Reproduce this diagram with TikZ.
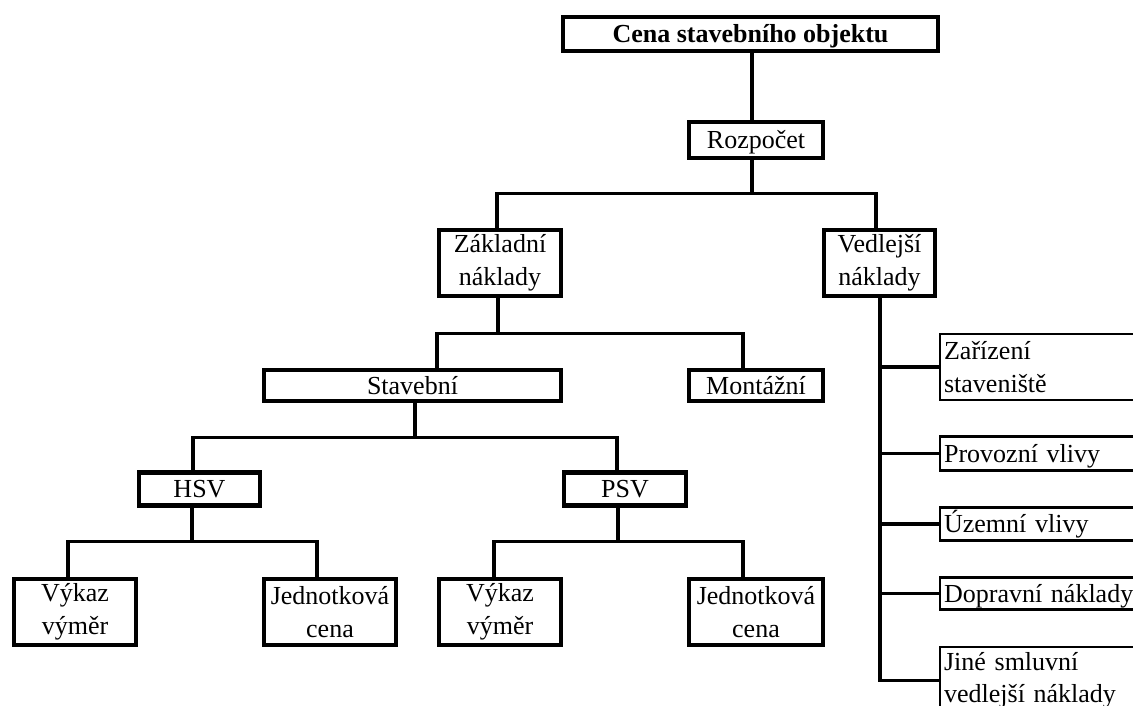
\documentclass[tikz,border=0pt]{standalone}
\usepackage{fontspec}
\setmainfont{Liberation Serif}
\begin{document}
\begin{tikzpicture}[x=1pt,y=-1pt,
  every node/.style={font=\fontsize{26}{33.5}\selectfont},
  box/.style={draw,line width=4.5pt,rectangle,inner sep=0pt,align=center},
  one/.style={text height=21pt,text depth=4pt},
  side/.style={draw,line width=2.2pt,rectangle,inner xsep=4pt,inner ysep=0pt,text width=190pt,align=left,anchor=west},
  conn/.style={line width=3.2pt}]
\useasboundingbox (0,0) rectangle (1133,706);
\clip (0,0) rectangle (1133,706);
% nodes
\node[box,one,minimum width=375pt,minimum height=34pt,font=\fontsize{26}{32}\selectfont\bfseries] (top) at (750.5,34) {Cena stavebního objektu};
\node[box,one,minimum width=134pt,minimum height=36pt] (roz) at (756,140) {Rozpočet};
\node[box,minimum width=122pt,minimum height=66pt] (zak) at (500,263) {Základní\\náklady};
\node[box,minimum width=111pt,minimum height=66pt] (ved) at (879.5,263) {Vedlejší\\náklady};
\node[box,one,minimum width=297pt,minimum height=31pt] (stav) at (412.5,385.5) {Stavební};
\node[box,one,minimum width=134pt,minimum height=31pt] (mont) at (756,385.5) {Montážní};
\node[box,one,minimum width=121pt,minimum height=33pt] (hsv) at (199.5,489) {HSV};
\node[box,one,minimum width=122pt,minimum height=33pt] (psv) at (625,489) {PSV};
\node[box,minimum width=122pt,minimum height=66pt] (vy1) at (75,612) {Výkaz\\výměr};
\node[box,minimum width=132pt,minimum height=66pt] (je1) at (330,612) {Jednotková\\cena};
\node[box,minimum width=122pt,minimum height=66pt] (vy2) at (500,612) {Výkaz\\výměr};
\node[box,minimum width=134pt,minimum height=66pt] (je2) at (756,612) {Jednotková\\cena};
% side boxes
\node[side,minimum height=66pt] (zar) at (939,367) {Zařízení\\staveniště};
\node[side,one,minimum height=34pt] (prov) at (939,453.5) {Provozní vlivy};
\node[side,one,minimum height=33pt] (uz) at (939,524) {Územní vlivy};
\node[side,one,minimum height=32pt] (dop) at (939,593.5) {Dopravní náklady};
\node[side,anchor=north west,inner ysep=5pt,font=\fontsize{26}{32.5}\selectfont] (jine) at (939,646) {Jiné smluvní\\vedlejší náklady};
% connectors
\draw[conn] ([xshift=1.5pt]top.south) -- ([xshift=-4pt]roz.north);
\draw[conn] ([xshift=-4pt]roz.south) -- ++(0,33) -| ([xshift=-3pt]zak.north);
\draw[conn] ([xshift=-4pt]roz.south) -- ++(0,33) -| ([xshift=-3.5pt]ved.north);
\draw[conn] ([xshift=-2pt]zak.south) -- ++(0,35) -| ([xshift=24.5pt]stav.north);
\draw[conn] ([xshift=-2pt]zak.south) -- ++(0,35) -| ([xshift=-13pt]mont.north);
\draw[conn] ([xshift=2.5pt]stav.south) -- ++(0,34) -| ([xshift=-6.5pt]hsv.north);
\draw[conn] ([xshift=2.5pt]stav.south) -- ++(0,34) -| ([xshift=-8pt]psv.north);
\draw[conn] ([xshift=-7.5pt]hsv.south) -- ++(0,34) -| ([xshift=-7pt]vy1.north);
\draw[conn] ([xshift=-7.5pt]hsv.south) -- ++(0,34) -| ([xshift=-13pt]je1.north);
\draw[conn] ([xshift=-7pt]psv.south) -- ++(0,34) -| ([xshift=-6pt]vy2.north);
\draw[conn] ([xshift=-7pt]psv.south) -- ++(0,34) -| ([xshift=-13pt]je2.north);
\draw[conn] ([xshift=0.5pt]ved.south) |- (jine.west);
\draw[conn] ([xshift=0.5pt]ved.south |- zar.west) -- (zar.west);
\draw[conn] ([xshift=0.5pt]ved.south |- prov.west) -- (prov.west);
\draw[conn] ([xshift=0.5pt]ved.south |- uz.west) -- (uz.west);
\draw[conn] ([xshift=0.5pt]ved.south |- dop.west) -- (dop.west);
\end{tikzpicture}
\end{document}
